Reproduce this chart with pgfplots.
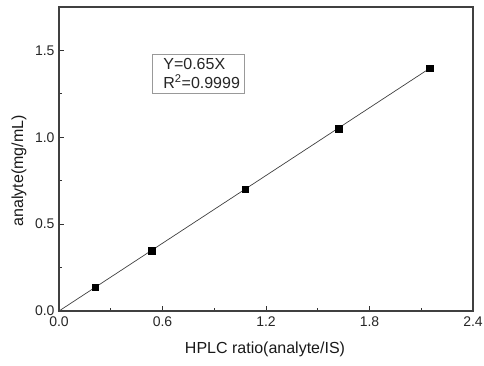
\documentclass[border=0pt]{standalone}
\usepackage{fontspec}
\setmainfont{Liberation Sans}
\usepackage{pgfplots}
\pgfplotsset{compat=1.18}
\begin{document}
\begin{tikzpicture}
\begin{axis}[
  scale only axis,
  width=414pt, height=304pt,
  xmin=0, xmax=2.4, ymin=0, ymax=1.75,
  xtick={0,0.6,1.2,1.8,2.4},
  ytick={0,0.5,1.0,1.5},
  minor tick num=1,
  tick align=inside,
  xtick pos=bottom, ytick pos=left,
  major tick length=5pt, minor tick length=3pt,
  every tick/.style={black!80, line width=0.8pt},
  axis line style={black!75, line width=1.3pt},
  /pgf/number format/assume math mode=true,
  /pgf/number format/.cd, fixed, fixed zerofill, precision=1, /pgfplots/.cd,
  tick label style={font=\fontsize{14}{16}\selectfont, text=black!85},
  xticklabel style={yshift=-2pt},
  yticklabel style={xshift=-1pt},
  xlabel={HPLC ratio(analyte/IS)},
  ylabel={analyte(mg/mL)},
  label style={font=\fontsize{16}{18}\selectfont, text=black!90},
  xlabel style={at={(axis description cs:0.4976,-0.125)}, anchor=center},
  ylabel style={at={(axis description cs:-0.0966,0.4605)}, anchor=center, rotate=0},
  clip=false,
]
\addplot[black!75, line width=0.7pt] coordinates {(0,0) (2.15,1.3975)};
\addplot[only marks, mark=square*, mark size=3.3pt, black] coordinates {
  (0.21,0.137) (0.537,0.347) (1.08,0.700) (1.62,1.050) (2.148,1.398)
};
\node[draw=black!40, line width=0.8pt, fill=white, anchor=north west,
  minimum width=92pt, minimum height=39pt, inner sep=0pt, text width=84pt,
  align=left, font=\fontsize{16}{19}\selectfont, text=black!85]
  at (axis cs:0.539,1.479) {\hspace*{7pt}Y=0.65X\\\hspace*{7pt}R\textsuperscript{2}=0.9999};
\end{axis}
\pgfresetboundingbox
\path[use as bounding box] (-59pt,-55pt) rectangle (425pt,311pt);
\end{tikzpicture}
\end{document}
